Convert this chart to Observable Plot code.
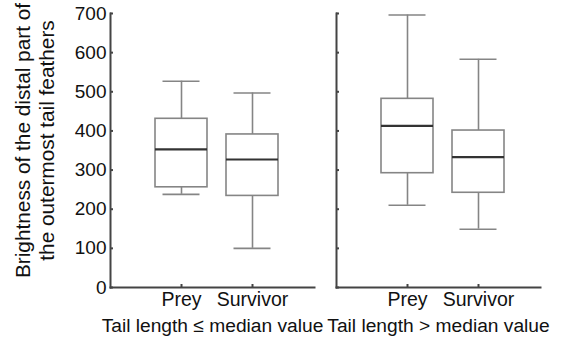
<!DOCTYPE html>
<html>
<head>
<meta charset="utf-8">
<script src="https://cdn.jsdelivr.net/npm/d3@7"></script>
<script src="https://cdn.jsdelivr.net/npm/@observablehq/plot@0.6"></script>
<style>
  html, body { margin: 0; padding: 0; background: #fff; }
  svg { font-family: "Liberation Sans", Arial, sans-serif; }
</style>
</head>
<body>
<div id="chart"></div>
<script>
// Data
const panelLabels = ["Tail length ≤ median value", "Tail length > median value"];
const groups = ["Prey", "Survivor"];
const panel = [panelLabels[0], panelLabels[0], panelLabels[1], panelLabels[1]];
const group = ["Prey", "Survivor", "Prey", "Survivor"];
const whiskerLow = [238, 100, 210, 149];
const q1 = [256, 234, 292, 242];
const median = [353, 327, 413, 333];
const q3 = [431, 391, 482, 401];
const whiskerHigh = [527, 497, 696, 583];
const yTicks = [0, 100, 200, 300, 400, 500, 600, 700];
const yLabel = "Brightness of the distal part of\nthe outermost tail feathers";

const data = panel.map((p, i) => ({
  panel: p, group: group[i], lo: whiskerLow[i], q1: q1[i],
  med: median[i], q3: q3[i], hi: whiskerHigh[i]
}));

const boxStroke = "#858585";
const axisStroke = "#444";

const chart = Plot.plot({
  width: 568,
  height: 344,
  marginLeft: 109,
  marginRight: 27,
  marginTop: 13,
  marginBottom: 57,
  style: { fontFamily: "Liberation Sans, Arial, sans-serif", fontSize: "19px", background: "#fff" },
  fx: { domain: panelLabels, paddingInner: 0.0969, paddingOuter: 0 },
  x: { domain: groups, paddingInner: 0.264, paddingOuter: 0.556, align: 0.556 },
  y: { domain: [0, 700] },
  marks: [
    Plot.frame({ anchor: "left", stroke: axisStroke, strokeWidth: 2 }),
    Plot.frame({ anchor: "bottom", stroke: axisStroke, strokeWidth: 2 }),
    Plot.axisY({ ticks: yTicks, tickSize: -3, tickFormat: () => "", facetAnchor: null, stroke: axisStroke, strokeWidth: 2, label: null }),
    Plot.axisY({ ticks: yTicks, tickSize: 0, tickPadding: 4, label: null, fontSize: 19, fill: "#111" }),
    Plot.axisX({ tickSize: -3, tickPadding: 8, label: null, stroke: axisStroke, strokeWidth: 2, fontSize: 19.5, fill: "#111" }),
    Plot.axisFx({ anchor: "bottom", tickSize: 0, tickPadding: 31, label: null, fontSize: 19.2, fill: "#111" }),
    Plot.ruleX(data, { fx: "panel", x: "group", y1: "lo", y2: "q1", stroke: boxStroke, strokeWidth: 1.6 }),
    Plot.ruleX(data, { fx: "panel", x: "group", y1: "q3", y2: "hi", stroke: boxStroke, strokeWidth: 1.6 }),
    Plot.tickY(data, { fx: "panel", x: "group", y: "lo", stroke: boxStroke, strokeWidth: 1.6, insetLeft: 7.5, insetRight: 7.5 }),
    Plot.tickY(data, { fx: "panel", x: "group", y: "hi", stroke: boxStroke, strokeWidth: 1.6, insetLeft: 7.5, insetRight: 7.5 }),
    Plot.barY(data, { fx: "panel", x: "group", y1: "q1", y2: "q3", fill: "white", stroke: boxStroke, strokeWidth: 1.6 }),
    Plot.tickY(data, { fx: "panel", x: "group", y: "med", stroke: "#333", strokeWidth: 2.2 }),
    Plot.text([{ panel: panelLabels[0], text: yLabel }], {
      fx: "panel", text: "text", frameAnchor: "left", rotate: -90,
      dx: -76, dy: -10, textAnchor: "middle", lineAnchor: "middle",
      lineHeight: 1.12, fontSize: 20.8, fill: "#111"
    })
  ]
});
document.getElementById("chart").append(chart);
</script>
</body>
</html>
